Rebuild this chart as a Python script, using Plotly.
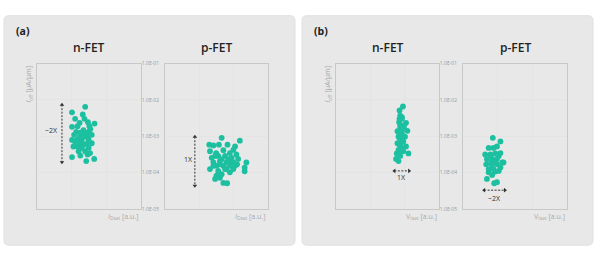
import plotly.graph_objects as go

# ---------------- data ----------------
# (a) Ioff vs IDsat, n-FET  (x in a.u., y as log10(Ioff [uA/um]))
a_n_x = [1.39, 1.01, 1.32, 1.10, 1.37, 1.23, 1.47, 1.66, 1.01, 1.17, 1.51, 1.34, 1.25, 1.49,
         1.07, 1.39, 1.58, 1.01, 1.15, 1.29, 1.49, 1.25, 1.42, 1.58, 1.05, 1.29, 1.49, 1.20,
         1.39, 1.53, 1.25, 1.01, 1.42, 1.65, 1.46, 1.13, 1.31, 1.22, 1.44, 1.34, 1.16, 1.46,
         1.54, 1.10]
a_n_logy = [-2.19, -2.34, -2.40, -2.52, -2.52, -2.63, -2.61, -2.65, -2.74, -2.72, -2.72, -2.83,
            -2.90, -2.88, -2.96, -3.01, -2.96, -3.10, -3.10, -3.10, -3.10, -3.19, -3.21, -3.19,
            -3.28, -3.32, -3.32, -3.41, -3.41, -3.46, -3.53, -3.57, -3.68, -3.62, -3.50, -2.88,
            -2.96, -3.03, -2.92, -3.23, -3.28, -3.01, -2.80, -3.15]

# (a) p-FET
a_p_x = [1.65, 1.29, 1.41, 1.57, 1.82, 2.04, 2.18, 1.99, 1.31, 1.49, 1.70, 1.89, 2.08, 1.36,
         1.55, 1.75, 1.94, 2.13, 1.41, 1.60, 1.79, 1.99, 2.37, 1.50, 1.70, 1.89, 2.10, 1.31,
         1.55, 1.79, 1.99, 2.32, 2.32, 1.50, 1.65, 1.89, 1.46, 1.60, 1.70, 1.81, 1.46, 1.65,
         1.84, 2.04, 1.41, 1.60, 1.75, 1.94]
a_p_logy = [-3.04, -3.23, -3.25, -3.23, -3.23, -3.28, -3.12, -3.37, -3.41, -3.46, -3.38, -3.46,
            -3.50, -3.59, -3.54, -3.54, -3.59, -3.62, -3.72, -3.68, -3.72, -3.71, -3.72, -3.81,
            -3.81, -3.81, -3.77, -3.90, -3.95, -3.90, -3.90, -3.86, -3.96, -4.08, -4.04, -3.99,
            -4.17, -4.14, -4.28, -4.29, -3.54, -3.63, -3.63, -3.81, -3.81, -3.77, -3.90, -3.72]

# (b) Ioff vs Vtsat, n-FET
b_n_x = [1.95, 1.85, 1.87, 1.92, 1.84, 2.04, 1.87, 1.98, 1.79, 2.08, 1.92, 1.82, 2.01, 1.87,
         1.96, 1.79, 1.90, 2.04, 1.82, 1.96, 1.77, 2.11, 1.87, 1.75, 1.82, 1.92, 1.87, 1.92,
         1.85, 1.93, 1.85, 1.98, 1.90, 1.84, 1.88]
b_n_logy = [-2.18, -2.29, -2.43, -2.52, -2.61, -2.63, -2.74, -2.79, -2.86, -2.85, -2.92, -3.01,
            -3.01, -3.10, -3.14, -3.19, -3.28, -3.28, -3.37, -3.41, -3.47, -3.47, -3.54, -3.62,
            -3.68, -2.47, -2.88, -3.05, -3.23, -3.32, -2.52, -2.70, -2.96, -3.44, -2.70]

# (b) p-FET
b_p_x = [0.86, 1.08, 0.74, 0.88, 0.98, 0.64, 0.79, 0.93, 1.08, 0.69, 0.84, 0.98, 1.13, 0.67,
         0.81, 0.98, 1.17, 0.74, 0.88, 1.08, 0.74, 0.93, 0.84, 0.69, 0.90, 0.98, 0.79, 1.03,
         0.93, 0.84, 1.03]
b_p_logy = [-3.04, -3.14, -3.32, -3.32, -3.28, -3.50, -3.50, -3.47, -3.46, -3.63, -3.62, -3.62,
            -3.72, -3.77, -3.74, -3.77, -3.72, -3.90, -3.90, -3.86, -3.99, -3.97, -4.06, -4.17,
            -4.29, -4.26, -3.54, -3.54, -3.72, -3.86, -3.95]

y_tickvals = [1e-1, 1e-2, 1e-3, 1e-4, 1e-5]
y_ticktext = ["1.0E-01", "1.0E-02", "1.0E-03", "1.0E-04", "1.0E-05"]
panel_titles = ["n-FET", "p-FET", "n-FET", "p-FET"]
panel_letters = ["(a)", "(b)"]

TEAL = "#1cc0a0"
GRID = "#e4e4e4"
FONT = "Open Sans"

fig = go.Figure()

series = [(a_n_x, a_n_logy), (a_p_x, a_p_logy), (b_n_x, b_n_logy), (b_p_x, b_p_logy)]
for i, (xs, ly) in enumerate(series):
    k = "" if i == 0 else str(i + 1)
    fig.add_trace(go.Scatter(
        x=xs, y=[10 ** v for v in ly], mode="markers",
        marker=dict(color=TEAL, size=5.8, line=dict(width=0)),
        xaxis="x" + k, yaxis="y" + k, showlegend=False, hoverinfo="skip"))

W, H = 600, 258
def px(x):
    return x / W
def py(y):
    return 1 - y / H

x_doms = [(37, 141), (165, 268), (336, 439), (463, 567)]
y_dom = [py(211), py(62)]

layout = dict(width=W, height=H, margin=dict(l=0, r=0, t=0, b=0),
              paper_bgcolor="white", plot_bgcolor="white", showlegend=False)
for i, (x0, x1) in enumerate(x_doms):
    k = "" if i == 0 else str(i + 1)
    layout["xaxis" + k] = dict(domain=[px(x0), px(x1)], range=[0, 3], dtick=1,
                               showticklabels=False, showgrid=True, gridcolor=GRID, gridwidth=1,
                               zeroline=False, showline=True, linecolor="#c8c8c8", linewidth=1,
                               mirror=True, ticks="", anchor="y" + k, fixedrange=True)
    show = i in (1, 3)
    layout["yaxis" + k] = dict(domain=y_dom, type="log", range=[-5, -1],
                               tickvals=y_tickvals, ticktext=y_ticktext,
                               showticklabels=show, tickfont=dict(size=5, color="#999999", family=FONT),
                               ticklabelstandoff=4,
                               showgrid=True, gridcolor=GRID, gridwidth=1, zeroline=False,
                               showline=True, linecolor="#c8c8c8", linewidth=1, mirror=True,
                               ticks="", anchor="x" + k, fixedrange=True)
fig.update_layout(**layout)

# grey rounded panels
def rrect(x0, y0, x1, y1, r):
    X0, X1 = px(x0), px(x1)
    Y0, Y1 = py(y1), py(y0)
    rx, ry = r / W, r / H
    return (f"M{X0+rx},{Y0} L{X1-rx},{Y0} Q{X1},{Y0} {X1},{Y0+ry} L{X1},{Y1-ry} "
            f"Q{X1},{Y1} {X1-rx},{Y1} L{X0+rx},{Y1} Q{X0},{Y1} {X0},{Y1-ry} "
            f"L{X0},{Y0+ry} Q{X0},{Y0} {X0+rx},{Y0} Z")

shapes = []
for (x0, x1) in [(4, 295), (302, 593)]:
    shapes.append(dict(type="path", xref="paper", yref="paper", path=rrect(x0, 13, x1, 248, 5),
                       fillcolor="#e8e8e8", line=dict(color="#e0e0e0", width=1), layer="below"))
fig.update_layout(shapes=shapes)

ann = []
# panel letters
for (x, t) in [(14, panel_letters[0]), (312, panel_letters[1])]:
    ann.append(dict(x=px(x), y=py(29), xref="paper", yref="paper", text=f"<b>{t}</b>",
                    showarrow=False, xanchor="left", yanchor="middle",
                    font=dict(size=10.5, color="#222", family=FONT)))
# subplot titles
for (x0, x1), t in zip(x_doms, panel_titles):
    ann.append(dict(x=px((x0 + x1) / 2), y=py(46), xref="paper", yref="paper", text=t,
                    showarrow=False, xanchor="center", yanchor="middle",
                    font=dict(size=12, color="#222", family=FONT, weight=600)))
# y titles
for x0 in (x_doms[0][0], x_doms[2][0]):
    ann.append(dict(x=px(x0 - 2), y=py(62), xref="paper", yref="paper",
                    text="<i>I</i><sub>off</sub> [μA/μm]", textangle=-90,
                    showarrow=False, xanchor="right", yanchor="top",
                    font=dict(size=7, color="#a8a8a8", family=FONT)))
# x titles
xt = ["<i>I</i><sub>Dsat</sub> [a.u.]", "<i>I</i><sub>Dsat</sub> [a.u.]",
      "V<sub>tsat</sub> [a.u.]", "V<sub>tsat</sub> [a.u.]"]
for (x0, x1), t in zip(x_doms, xt):
    ann.append(dict(x=px(x1), y=py(219), xref="paper", yref="paper", text=t,
                    showarrow=False, xanchor="right", yanchor="middle",
                    font=dict(size=7, color="#a8a8a8", family=FONT)))

# spread arrows (dashed double arrows) in data coords of each subplot
arrows = [  # (axis suffix, x0, y0(log), x1, y1(log), label, lx, ly(log))
    ("", 0.72, -2.13, 0.72, -3.71, "~2X", 0.43, -2.83),
    ("2", 0.87, -3.01, 0.87, -4.36, "1X", 0.67, -3.63),
    ("3", 1.70, -3.95, 2.13, -3.95, "1X", 1.91, -4.12),
    ("4", 0.61, -4.48, 1.21, -4.48, "~2X", 0.92, -4.70),
]
for k, x0, y0, x1, y1, lab, lx, ly in arrows:
    vertical = x0 == x1
    fig.add_trace(go.Scatter(x=[x0, x1], y=[10 ** y0, 10 ** y1], mode="lines",
                             line=dict(color="#333", width=1, dash="2px,1.5px"),
                             xaxis="x" + k, yaxis="y" + k, showlegend=False, hoverinfo="skip"))
    syms = ["triangle-up", "triangle-down"] if vertical else ["triangle-left", "triangle-right"]
    fig.add_trace(go.Scatter(x=[x0, x1], y=[10 ** y0, 10 ** y1], mode="markers",
                             marker=dict(symbol=syms, size=4, color="#333"),
                             xaxis="x" + k, yaxis="y" + k, showlegend=False, hoverinfo="skip"))
    ann.append(dict(x=lx, y=ly, xref="x" + k, yref="y" + k, text=lab, showarrow=False,
                    xanchor="center", yanchor="middle",
                    font=dict(size=7, color="#333", family=FONT)))

fig.update_layout(annotations=ann)
fig.write_html("out.html")
